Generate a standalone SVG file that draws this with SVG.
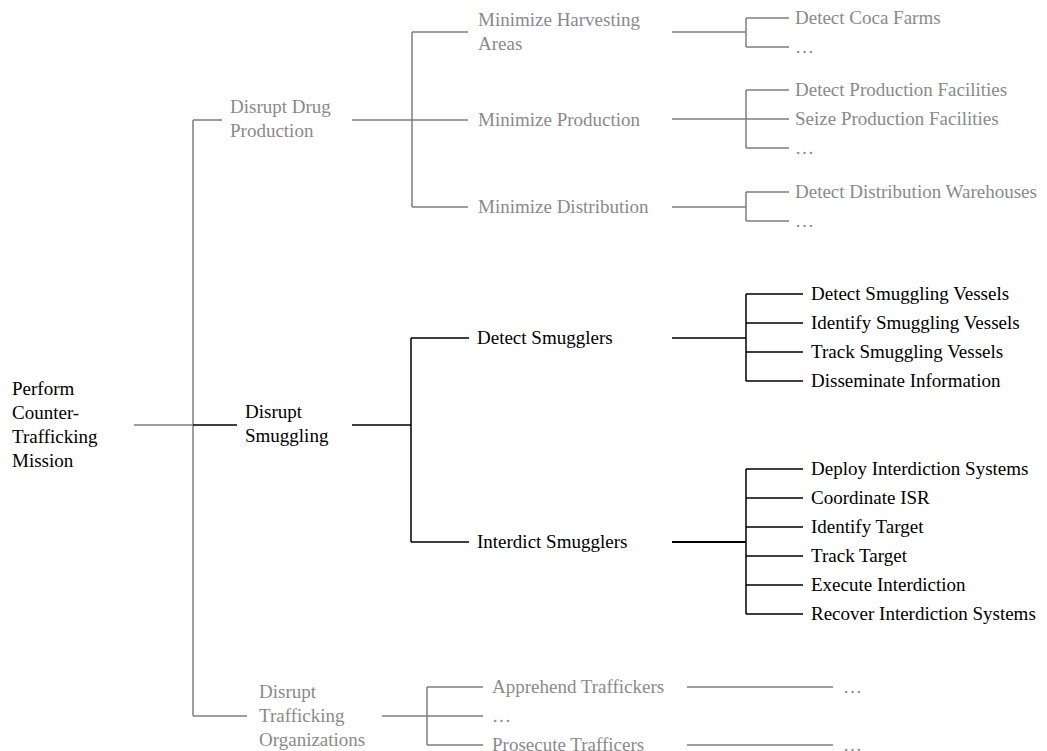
<svg xmlns="http://www.w3.org/2000/svg" width="1047" height="751" viewBox="0 0 1047 751">
  <style>
    text { font-family: "Liberation Serif", "Times New Roman", serif; font-size: 19px; }
    .g { fill: #8a8a8a; }
    .k { fill: #000000; }
    .lg { stroke: #7f7f7f; stroke-width: 1.5; fill: none; }
    .lk { stroke: #000000; stroke-width: 1.5; fill: none; }
    .lk2 { stroke: #000000; stroke-width: 2.2; fill: none; }
  </style>
  <rect width="1047" height="751" fill="#ffffff"/>

  <!-- connectors -->
  <g id="connectors">
    <!-- root to level 1 -->
    <path class="lg" d="M134,425 H193 M193,120 V716 M193,120 H222 M193,716 H247"/>
    <path class="lk" d="M193,425 H237"/>

    <!-- Disrupt Drug Production -->
    <path class="lg" d="M352,120 H412 M412,32 V207 M412,32 H468 M412,120 H468 M412,207 H468"/>
    <path class="lg" d="M672,32 H746 M746,18 V47 M746,18 H789 M746,47 H789"/>
    <path class="lg" d="M672,119 H746 M746,90 V148 M746,90 H789 M746,119 H789 M746,148 H789"/>
    <path class="lg" d="M672,207 H746 M746,192 V221 M746,192 H789 M746,221 H789"/>

    <!-- Disrupt Smuggling -->
    <path class="lk" d="M352,425 H411 M411,338 V542 M411,338 H469 M411,542 H469"/>
    <path class="lk" d="M672,338 H746 M746,294 V381 M746,294 H803 M746,323 H803 M746,352 H803 M746,381 H803"/>
    <path class="lk2" d="M672,542 H746"/>
    <path class="lk" d="M746,469 V614 M746,469 H803 M746,498 H803 M746,527 H803 M746,556 H803 M746,585 H803 M746,614 H803"/>

    <!-- Disrupt Trafficking Organizations -->
    <path class="lg" d="M382,716 H427 M427,687 V745 M427,687 H483 M427,716 H483 M427,745 H483"/>
    <path class="lg" d="M687,687 H833 M687,745 H833"/>
  </g>

  <!-- root -->
  <g id="root">
    <text class="k" x="12" y="395">Perform</text>
    <text class="k" x="12" y="419">Counter-</text>
    <text class="k" x="12" y="443">Trafficking</text>
    <text class="k" x="12" y="467">Mission</text>
  </g>

  <!-- level 1 -->
  <g id="disrupt-drug-production">
    <text class="g" x="230" y="113">Disrupt Drug</text>
    <text class="g" x="230" y="137">Production</text>
  </g>
  <g id="disrupt-smuggling">
    <text class="k" x="245" y="418">Disrupt</text>
    <text class="k" x="245" y="442">Smuggling</text>
  </g>
  <g id="disrupt-trafficking-organizations">
    <text class="g" x="259" y="698">Disrupt</text>
    <text class="g" x="259" y="722">Trafficking</text>
    <text class="g" x="259" y="746">Organizations</text>
  </g>

  <!-- level 2 -->
  <g id="minimize-harvesting-areas">
    <text class="g" x="478" y="26">Minimize Harvesting</text>
    <text class="g" x="478" y="50">Areas</text>
  </g>
  <g id="minimize-production"><text class="g" x="478" y="126">Minimize Production</text></g>
  <g id="minimize-distribution"><text class="g" x="478" y="213">Minimize Distribution</text></g>
  <g id="detect-smugglers"><text class="k" x="477" y="344">Detect Smugglers</text></g>
  <g id="interdict-smugglers"><text class="k" x="477" y="548">Interdict Smugglers</text></g>
  <g id="apprehend-traffickers"><text class="g" x="492" y="693">Apprehend Traffickers</text></g>
  <g id="trafficking-more"><text class="g" x="492" y="722">…</text></g>
  <g id="prosecute-trafficers"><text class="g" x="492" y="751">Prosecute Trafficers</text></g>

  <!-- level 3 -->
  <g id="detect-coca-farms"><text class="g" x="795" y="24">Detect Coca Farms</text></g>
  <g id="harvesting-more"><text class="g" x="795" y="53">…</text></g>
  <g id="detect-production-facilities"><text class="g" x="795" y="96">Detect Production Facilities</text></g>
  <g id="seize-production-facilities"><text class="g" x="795" y="125">Seize Production Facilities</text></g>
  <g id="production-more"><text class="g" x="795" y="154">…</text></g>
  <g id="detect-distribution-warehouses"><text class="g" x="795" y="198">Detect Distribution Warehouses</text></g>
  <g id="distribution-more"><text class="g" x="795" y="227">…</text></g>

  <g id="detect-smuggling-vessels"><text class="k" x="811" y="300">Detect Smuggling Vessels</text></g>
  <g id="identify-smuggling-vessels"><text class="k" x="811" y="329">Identify Smuggling Vessels</text></g>
  <g id="track-smuggling-vessels"><text class="k" x="811" y="358">Track Smuggling Vessels</text></g>
  <g id="disseminate-information"><text class="k" x="811" y="387">Disseminate Information</text></g>

  <g id="deploy-interdiction-systems"><text class="k" x="811" y="475">Deploy Interdiction Systems</text></g>
  <g id="coordinate-isr"><text class="k" x="811" y="504">Coordinate ISR</text></g>
  <g id="identify-target"><text class="k" x="811" y="533">Identify Target</text></g>
  <g id="track-target"><text class="k" x="811" y="562">Track Target</text></g>
  <g id="execute-interdiction"><text class="k" x="811" y="591">Execute Interdiction</text></g>
  <g id="recover-interdiction-systems"><text class="k" x="811" y="620">Recover Interdiction Systems</text></g>

  <g id="apprehend-more"><text class="g" x="843" y="693">…</text></g>
  <g id="prosecute-more"><text class="g" x="843" y="751">…</text></g>
</svg>
